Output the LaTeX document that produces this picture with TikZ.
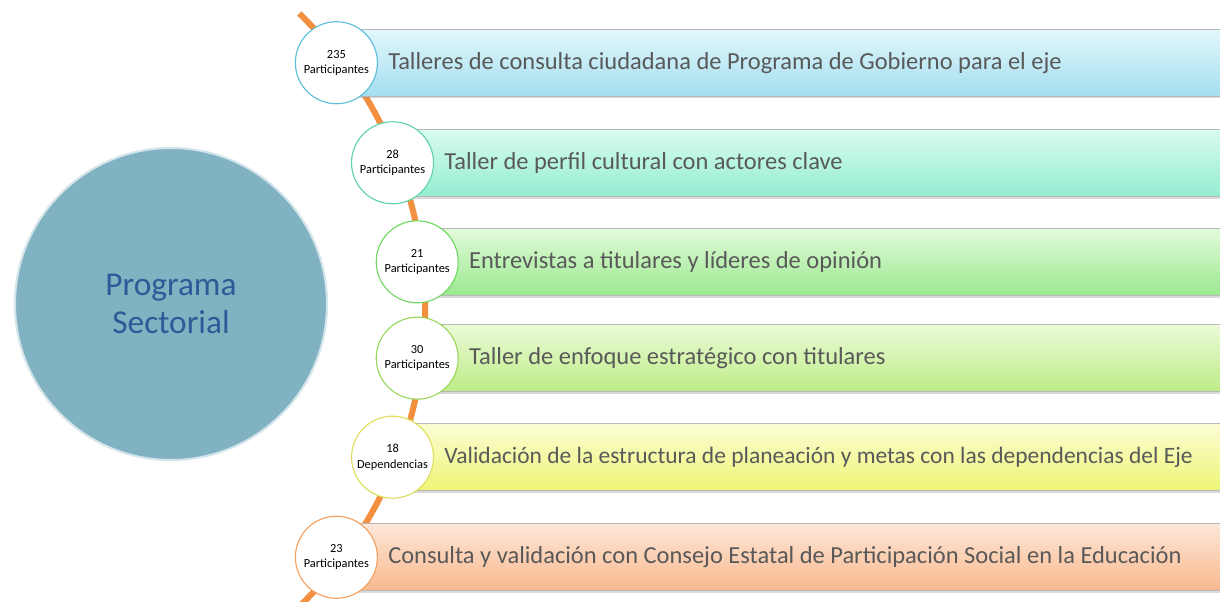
\documentclass[tikz,border=0pt]{standalone}
\usepackage{fontspec}
\setmainfont{Carlito}
\usepackage{xcolor}
\usepackage{tikz}
\usetikzlibrary{positioning, shadows, calc, backgrounds}

\definecolor{arcorange}{HTML}{F39040}
\definecolor{hubfill}{HTML}{80B2C2}
\definecolor{hubtext}{HTML}{2E5A98}
\definecolor{bartextgray}{HTML}{595959}
\definecolor{ringA}{HTML}{5BBFD8}
\definecolor{ringB}{HTML}{5FD3A5}
\definecolor{ringC}{HTML}{70D860}
\definecolor{ringD}{HTML}{9AD85C}
\definecolor{ringE}{HTML}{DEDE5A}
\definecolor{ringF}{HTML}{F5A060}
\definecolor{barAtop}{HTML}{E2F7FC}\definecolor{barAbot}{HTML}{A4DEEF}
\definecolor{barBtop}{HTML}{D9FBF0}\definecolor{barBbot}{HTML}{94EDD2}
\definecolor{barCtop}{HTML}{E2FBDA}\definecolor{barCbot}{HTML}{9BE88F}
\definecolor{barDtop}{HTML}{ECFBD8}\definecolor{barDbot}{HTML}{BCEC86}
\definecolor{barEtop}{HTML}{FBFDD3}\definecolor{barEbot}{HTML}{EEF575}
\definecolor{barFtop}{HTML}{FDE7D7}\definecolor{barFbot}{HTML}{F9B88E}

\begin{document}
\begin{tikzpicture}[
    x=0.025cm, y=0.025cm,
    hub/.style={circle, fill=hubfill, draw=white!65!hubfill, line width=1.5pt, minimum size=7.8cm, align=center, text=hubtext, font=\fontsize{23.7}{26.5}\selectfont},
    stage/.style={circle, fill=white, minimum size=2.05cm, inner sep=0pt, line width=0.8pt, align=center, font=\fontsize{8.8}{11}\selectfont},
    bar/.style={rectangle, draw=gray!55, minimum width=22.4cm, minimum height=1.675cm, anchor=west, drop shadow={opacity=0.3, shadow xshift=0.6pt, shadow yshift=-1.6pt}},
    bartext/.style={inner sep=0pt, text=bartextgray, font=\fontsize{17.4}{20}\selectfont},
    arcline/.style={draw=arcorange, line width=4.3pt}
]
    \useasboundingbox (0,0) rectangle (1220,602);
    \coordinate (arcc) at (13,292);

    \node[hub] (hub) at (171,298) {Programa\\Sectorial};

    \node[stage, draw=ringA] (p1) at ($(arcc)+(37.4:10.175cm)$) {235\\Participantes};
    \node[stage, draw=ringB] (p2) at ($(arcc)+(21.2:10.175cm)$) {28\\Participantes};
    \node[stage, draw=ringC] (p3) at ($(arcc)+(6.8:10.175cm)$) {21\\Participantes};
    \node[stage, draw=ringD] (p4) at ($(arcc)+(-6.8:10.175cm)$) {30\\Participantes};
    \node[stage, draw=ringE] (p5) at ($(arcc)+(-21.2:10.175cm)$) {18\\Dependencias};
    \node[stage, draw=ringF] (p6) at ($(arcc)+(-37.4:10.175cm)$) {23\\Participantes};

    \node[bartext, right=0.25cm of p1] (t1) {Talleres de consulta ciudadana de Programa de Gobierno para el eje};
    \node[bartext, right=0.25cm of p2] (t2) {Taller de perfil cultural con actores clave};
    \node[bartext, right=0.25cm of p3] (t3) {Entrevistas a titulares y líderes de opinión};
    \node[bartext, right=0.25cm of p4] (t4) {Taller de enfoque estratégico con titulares};
    \node[bartext, right=0.25cm of p5, font=\fontsize{16.7}{20}\selectfont] (t5) {Validación de la estructura de planeación y metas con las dependencias del Eje};
    \node[bartext, right=0.25cm of p6] (t6) {Consulta y validación con Consejo Estatal de Participación Social en la Educación};

    \begin{scope}[on background layer]
        % orange arc behind the steps
        \draw[arcline] ($(arcc)+(46:10.3cm)$) arc[start angle=46, end angle=-46, radius=10.3cm];
        \node[bar, top color=barAtop, bottom color=barAbot] (b1) at (p1.center) {};
        \node[bar, top color=barBtop, bottom color=barBbot] (b2) at (p2.center) {};
        \node[bar, top color=barCtop, bottom color=barCbot] (b3) at (p3.center) {};
        \node[bar, top color=barDtop, bottom color=barDbot] (b4) at (p4.center) {};
        \node[bar, top color=barEtop, bottom color=barEbot] (b5) at (p5.center) {};
        \node[bar, top color=barFtop, bottom color=barFbot] (b6) at (p6.center) {};
    \end{scope}
\end{tikzpicture}
\end{document}
